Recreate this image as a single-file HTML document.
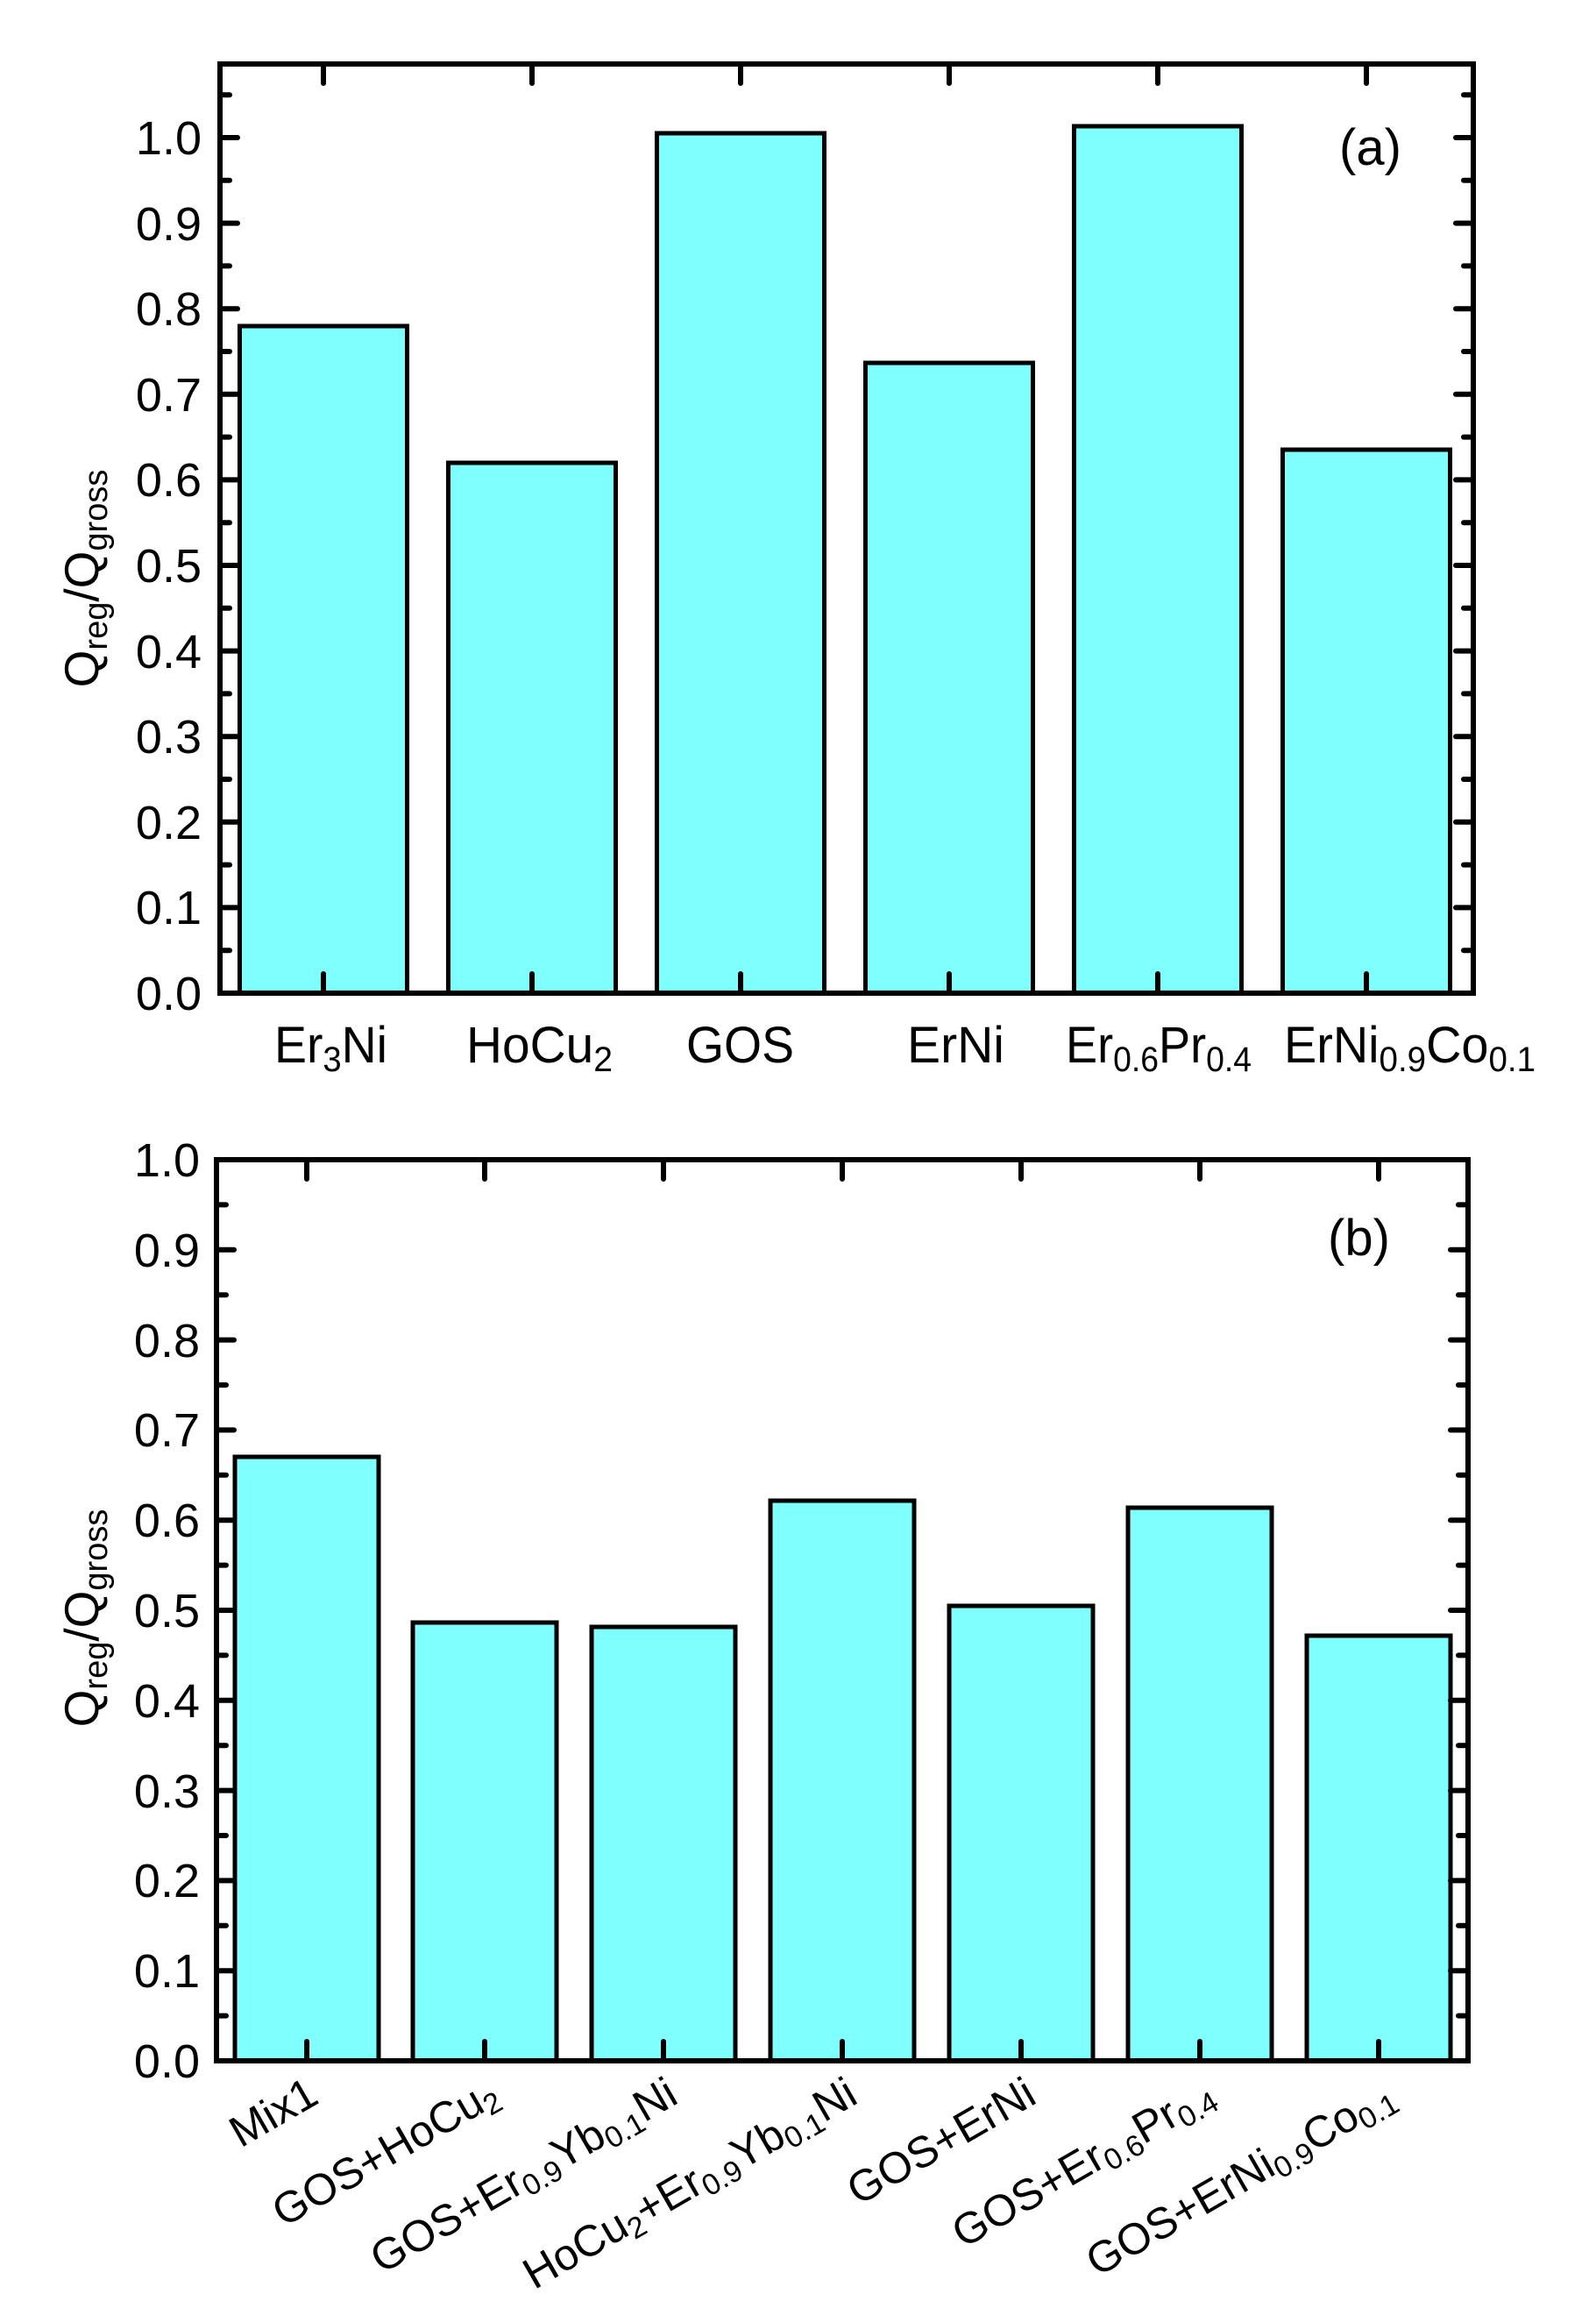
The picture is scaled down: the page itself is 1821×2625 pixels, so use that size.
<!DOCTYPE html>
<html><head><meta charset="utf-8"><style>
html,body{margin:0;padding:0;background:#fff;}
svg{display:block;}
text{font-family:"Liberation Sans",Arial,sans-serif;fill:#000;}
</style></head><body>
<svg width="1821" height="2625" viewBox="0 0 1821 2625" xmlns="http://www.w3.org/2000/svg">
<!-- Panel A -->
<g stroke="#000" stroke-width="5" fill="#80ffff">
<rect x="273.5" y="372" width="191" height="761"/>
<rect x="511.5" y="528" width="191" height="605"/>
<rect x="749.5" y="152" width="191" height="981"/>
<rect x="987.5" y="414" width="191" height="719"/>
<rect x="1225.5" y="144" width="191" height="989"/>
<rect x="1463.5" y="513" width="191" height="620"/>
</g>
<g stroke="#000" stroke-width="6" fill="none" stroke-linecap="round">
<rect x="251" y="73" width="1430" height="1060"/>
<path d="M251 1133h20M251 1035.4h20M251 937.8h20M251 840.2h20M251 742.6h20M251 645h20M251 547.4h20M251 449.8h20M251 352.2h20M251 254.6h20M251 157h20
M251 1084.2h11M251 986.6h11M251 889h11M251 791.4h11M251 693.8h11M251 596.2h11M251 498.6h11M251 401h11M251 303.4h11M251 205.8h11M251 108.2h11
M1681 1133h-20M1681 1035.4h-20M1681 937.8h-20M1681 840.2h-20M1681 742.6h-20M1681 645h-20M1681 547.4h-20M1681 449.8h-20M1681 352.2h-20M1681 254.6h-20M1681 157h-20
M1681 1084.2h-11M1681 986.6h-11M1681 889h-11M1681 791.4h-11M1681 693.8h-11M1681 596.2h-11M1681 498.6h-11M1681 401h-11M1681 303.4h-11M1681 205.8h-11M1681 108.2h-11
M369 73v22M607 73v22M845 73v22M1083 73v22M1321 73v22M1559 73v22
M369 1133v-22M607 1133v-22M845 1133v-22M1083 1133v-22M1321 1133v-22M1559 1133v-22"/>
</g>
<g font-size="54" text-anchor="end">
<text x="230" y="1152">0.0</text><text x="230" y="1054">0.1</text><text x="230" y="957">0.2</text><text x="230" y="859">0.3</text><text x="230" y="762">0.4</text><text x="230" y="664">0.5</text><text x="230" y="566">0.6</text><text x="230" y="469">0.7</text><text x="230" y="371">0.8</text><text x="230" y="274">0.9</text><text x="230" y="176">1.0</text>
</g>
<text x="1528" y="188" font-size="58">(a)</text>
<text transform="translate(112,660) rotate(-90)" font-size="55" text-anchor="middle">Q<tspan font-size="38" dy="10">reg</tspan><tspan dy="-10">/Q</tspan><tspan font-size="38" dy="10">gross</tspan></text>
<g font-size="58">
<text x="313" y="1212" textLength="129" lengthAdjust="spacingAndGlyphs">Er<tspan font-size="40" dy="10">3</tspan><tspan dy="-10">Ni</tspan></text>
<text x="532" y="1212" textLength="167" lengthAdjust="spacingAndGlyphs">HoCu<tspan font-size="40" dy="10">2</tspan></text>
<text x="783" y="1212" textLength="123" lengthAdjust="spacingAndGlyphs">GOS</text>
<text x="1035" y="1212" textLength="111" lengthAdjust="spacingAndGlyphs">ErNi</text>
<text x="1216" y="1212" textLength="212" lengthAdjust="spacingAndGlyphs">Er<tspan font-size="40" dy="10">0.6</tspan><tspan dy="-10">Pr</tspan><tspan font-size="40" dy="10">0.4</tspan></text>
<text x="1465" y="1212" textLength="287" lengthAdjust="spacingAndGlyphs">ErNi<tspan font-size="40" dy="10">0.9</tspan><tspan dy="-10">Co</tspan><tspan font-size="40" dy="10">0.1</tspan></text>
</g>

<!-- Panel B -->
<g stroke="#000" stroke-width="5" fill="#80ffff">
<rect x="268" y="1662" width="164" height="689"/>
<rect x="471" y="1851" width="164" height="500"/>
<rect x="675" y="1856" width="164" height="495"/>
<rect x="879" y="1712" width="164" height="639"/>
<rect x="1083" y="1832" width="164" height="519"/>
<rect x="1287" y="1720" width="164" height="631"/>
<rect x="1491" y="1866" width="164" height="485"/>
</g>
<g stroke="#000" stroke-width="6" fill="none" stroke-linecap="round">
<rect x="247" y="1323" width="1428" height="1028"/>
<path d="M247 2351h20M247 2248.2h20M247 2145.4h20M247 2042.6h20M247 1939.8h20M247 1837h20M247 1734.2h20M247 1631.4h20M247 1528.6h20M247 1425.8h20M247 1323h20
M247 2299.6h11M247 2196.8h11M247 2094h11M247 1991.2h11M247 1888.4h11M247 1785.6h11M247 1682.8h11M247 1580h11M247 1477.2h11M247 1374.4h11
M1675 2351h-20M1675 2248.2h-20M1675 2145.4h-20M1675 2042.6h-20M1675 1939.8h-20M1675 1837h-20M1675 1734.2h-20M1675 1631.4h-20M1675 1528.6h-20M1675 1425.8h-20M1675 1323h-20
M1675 2299.6h-11M1675 2196.8h-11M1675 2094h-11M1675 1991.2h-11M1675 1888.4h-11M1675 1785.6h-11M1675 1682.8h-11M1675 1580h-11M1675 1477.2h-11M1675 1374.4h-11
M350 1323v22M553 1323v22M757 1323v22M961 1323v22M1165 1323v22M1369 1323v22M1573 1323v22
M350 2351v-22M553 2351v-22M757 2351v-22M961 2351v-22M1165 2351v-22M1369 2351v-22M1573 2351v-22"/>
</g>
<g font-size="54" text-anchor="end">
<text x="228" y="2370">0.0</text><text x="228" y="2267">0.1</text><text x="228" y="2164">0.2</text><text x="228" y="2062">0.3</text><text x="228" y="1959">0.4</text><text x="228" y="1856">0.5</text><text x="228" y="1753">0.6</text><text x="228" y="1650">0.7</text><text x="228" y="1548">0.8</text><text x="228" y="1445">0.9</text><text x="228" y="1342">1.0</text>
</g>
<text x="1515" y="1432" font-size="58">(b)</text>
<text transform="translate(112,1846) rotate(-90)" font-size="55" text-anchor="middle">Q<tspan font-size="38" dy="10">reg</tspan><tspan dy="-10">/Q</tspan><tspan font-size="38" dy="10">gross</tspan></text>
<g font-size="50" text-anchor="end">
<text transform="translate(366,2398) rotate(-30)">Mix1</text>
<text transform="translate(572,2398) rotate(-30)">GOS+HoCu<tspan font-size="34" dy="8">2</tspan></text>
<text transform="translate(776,2398) rotate(-30)">GOS+Er<tspan font-size="34" dy="8">0.9</tspan><tspan dy="-8">Yb</tspan><tspan font-size="34" dy="8">0.1</tspan><tspan dy="-8">Ni</tspan></text>
<text transform="translate(981,2398) rotate(-30)">HoCu<tspan font-size="34" dy="8">2</tspan><tspan dy="-8">+Er</tspan><tspan font-size="34" dy="8">0.9</tspan><tspan dy="-8">Yb</tspan><tspan font-size="34" dy="8">0.1</tspan><tspan dy="-8">Ni</tspan></text>
<text transform="translate(1185,2398) rotate(-30)">GOS+ErNi</text>
<text transform="translate(1389,2398) rotate(-30)">GOS+Er<tspan font-size="34" dy="8">0.6</tspan><tspan dy="-8">Pr</tspan><tspan font-size="34" dy="8">0.4</tspan></text>
<text transform="translate(1595,2400) rotate(-30)">GOS+ErNi<tspan font-size="34" dy="8">0.9</tspan><tspan dy="-8">Co</tspan><tspan font-size="34" dy="8">0.1</tspan></text>
</g>
</svg>
</body></html>
